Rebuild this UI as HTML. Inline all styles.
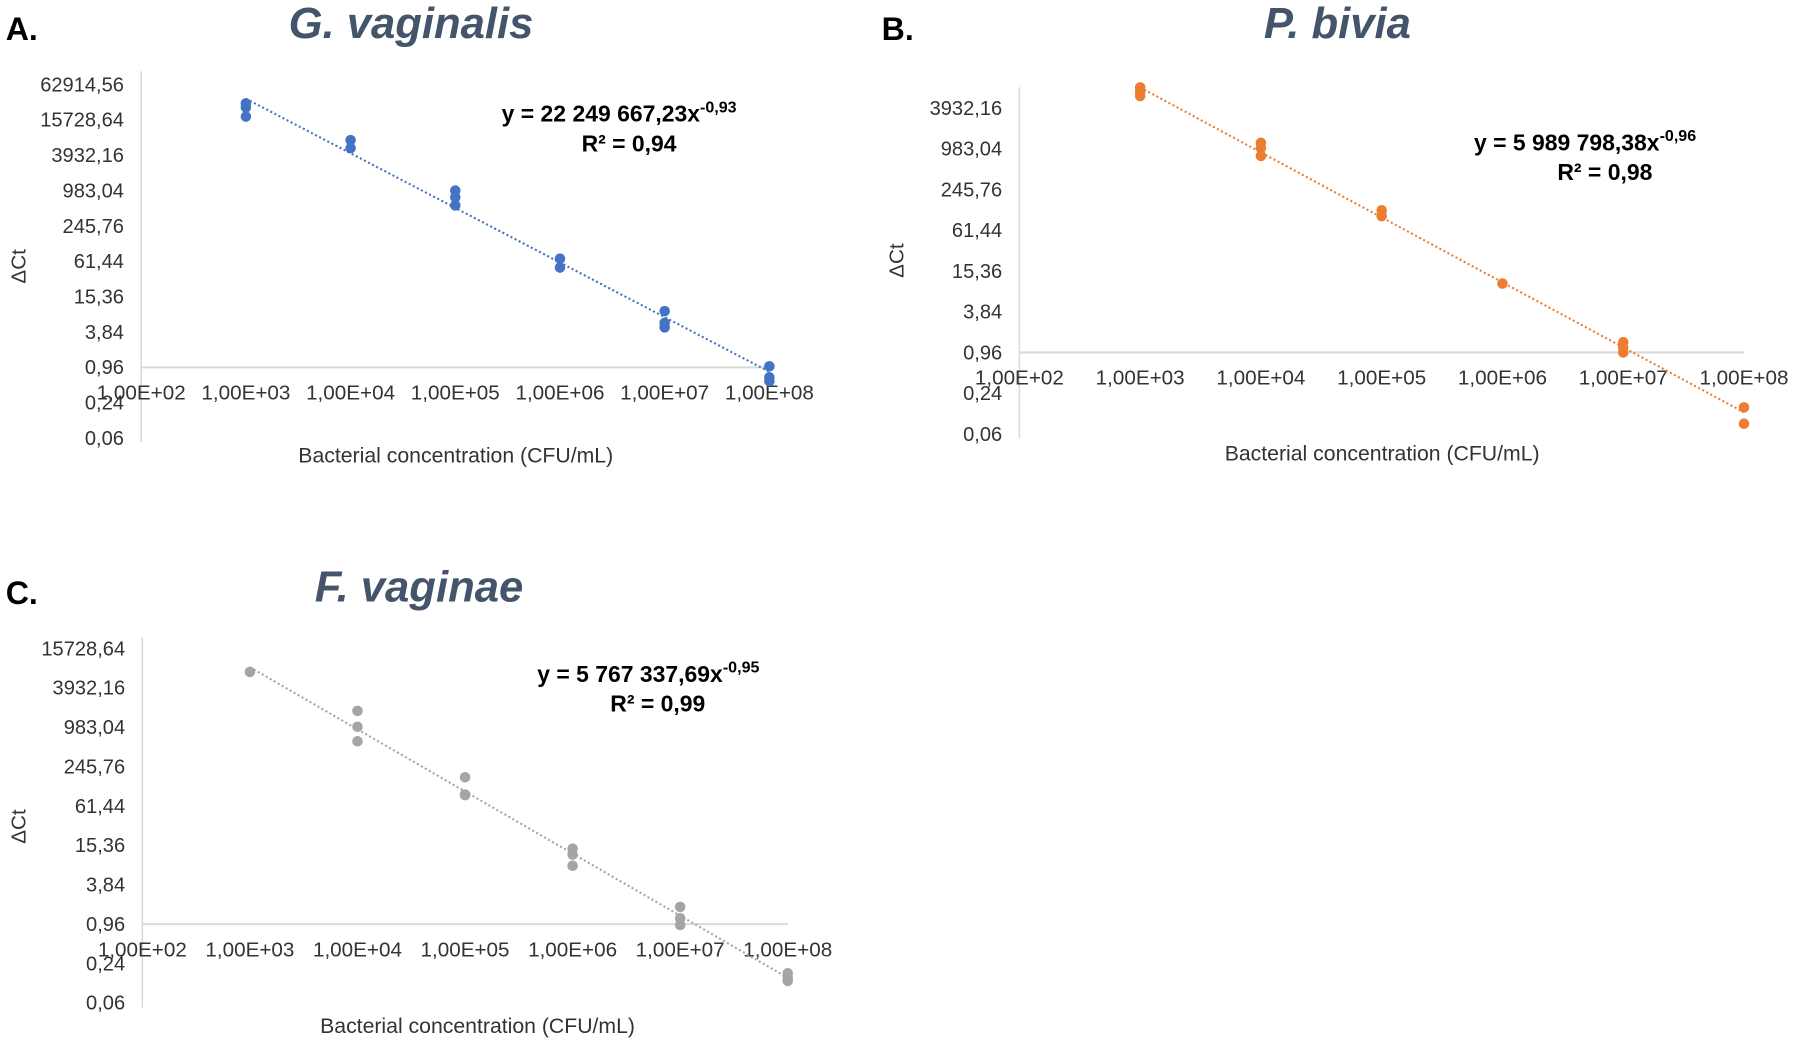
<!DOCTYPE html>
<html><head><meta charset="utf-8"><style>
html,body{margin:0;padding:0;background:#fff;}
svg{display:block;font-family:"Liberation Sans",Arial,sans-serif;}
</style></head><body>
<svg id="fig" width="1800" height="1045" viewBox="0 0 1568 910.3" xmlns="http://www.w3.org/2000/svg"></svg>
<script>
// ---- data ----
const xTickLabels = ["1,00E+02","1,00E+03","1,00E+04","1,00E+05","1,00E+06","1,00E+07","1,00E+08"];
const xTickValues = [1e2,1e3,1e4,1e5,1e6,1e7,1e8];
const yTickLabelsA = ["62914,56","15728,64","3932,16","983,04","245,76","61,44","15,36","3,84","0,96","0,24","0,06"];
const yTickLabelsB = ["3932,16","983,04","245,76","61,44","15,36","3,84","0,96","0,24","0,06"];
const yTickLabelsC = ["15728,64","3932,16","983,04","245,76","61,44","15,36","3,84","0,96","0,24","0,06"];
const aX = [1e3,1e3,1e3,1e4,1e4,1e5,1e5,1e5,1e6,1e6,1e7,1e7,1e7,1e8,1e8,1e8];
const aY = [30000,25700,17900,7100,5200,983,757,550,68,48,8.7,5.5,4.6,1.0,0.65,0.56];
const bX = [1e3,1e3,1e3,1e4,1e4,1e4,1e5,1e5,1e6,1e7,1e7,1e7,1e8,1e8];
const bY = [7900,6800,5900,1200,1000,770,121,99,10,1.36,1.12,0.96,0.148,0.085];
const cX = [1e3,1e4,1e4,1e4,1e5,1e5,1e5,1e6,1e6,1e6,1e7,1e7,1e7,1e8,1e8,1e8];
const cY = [6900,1750,1000,600,169,92,90,13.7,11.1,7.5,1.76,1.18,0.93,0.17,0.145,0.13];
const aFit = [22249667.23,-0.93];
const bFit = [5989798.38,-0.96];
const cFit = [5767337.69,-0.95];

const NS="http://www.w3.org/2000/svg";
const svg=document.getElementById('fig');
function mk(tag,attrs,parent){const e=document.createElementNS(NS,tag);for(const k in attrs)e.setAttribute(k,attrs[k]);(parent||svg).appendChild(e);return e;}

function chart(o){
  const g=mk('g',{});
  
  
  const xs=v=>o.x0+(Math.log10(v)-2)*o.xStep;
  const ys=v=>o.y096-(Math.log(v/0.96)/Math.log(4))*o.yStep;
  const L=mk('text',{x:o.letterX,y:o.titleY,'font-size':28,'font-weight':'bold',fill:'#000'},g);L.textContent=o.letter;
  
  const T=mk('text',{x:o.titleX,y:o.titleY-2,'font-size':38,'font-weight':'bold','font-style':'italic',fill:'#44546a','text-anchor':'middle'},g);T.textContent=o.title;
  
  const va=mk('line',{x1:o.x0,x2:o.x0,y1:o.yTop,y2:o.yBot,stroke:'#d9d9d9','stroke-width':1.3},g);
  
  const ha=mk('line',{x1:o.x0,x2:xs(1e8),y1:o.y096,y2:o.y096,stroke:'#d9d9d9','stroke-width':1.8},g);
  
  o.yLabels.forEach(s=>{
    const v=parseFloat(s.replace(',','.'));
    const t=mk('text',{x:o.x0-15,y:ys(v)+6,'font-size':17.5,fill:'#333','text-anchor':'end'},g);t.textContent=s;
    
  });
  xTickValues.forEach((v,i)=>{
    const t=mk('text',{x:xs(v),y:o.y096+28,'font-size':18,fill:'#333','text-anchor':'middle'},g);t.textContent=xTickLabels[i];
    
  });
  const yt=mk('text',{x:0,y:0,'font-size':18,fill:'#333','text-anchor':'middle',transform:`translate(${o.yTitleX},${o.yTitleY}) rotate(-90)`},g);yt.textContent='ΔCt';
  
  const xt=mk('text',{x:o.xTitleX,y:o.xTitleY,'font-size':18.5,fill:'#333','text-anchor':'middle'},g);xt.textContent='Bacterial concentration (CFU/mL)';
  
  const f=v=>o.fit[0]*Math.pow(v,o.fit[1]);
  const tl=mk('line',{x1:xs(1e3),y1:ys(f(1e3)),x2:xs(1e8),y2:ys(f(1e8)),stroke:o.color,'stroke-width':1.8,'stroke-dasharray':'1.8 2.2'},g);
  
  o.xd.forEach((xv,i)=>{
    const c=mk('circle',{cx:xs(xv),cy:ys(o.yd[i]),r:4.6,fill:o.color},g);
    
  });
  const eq=mk('text',{x:o.eqX,y:o.eqY,'font-size':20,'font-weight':'bold',fill:'#000'},g);
  
  eq.appendChild(document.createTextNode(o.eqText));
  const sp=mk('tspan',{'font-size':14,dy:-8},eq);sp.textContent=o.eqExp;
  const r2=mk('text',{x:o.r2X,y:o.eqY+26,'font-size':20,'font-weight':'bold',fill:'#000','text-anchor':'middle'},g);r2.textContent=o.r2;
  
}

chart({name:'chart-g-vaginalis',letter:'A.',letterX:5,title:'G. vaginalis',titleX:358,titleY:35,
  x0:123,xStep:91.2,y096:320,yStep:30.8,yTop:62,yBot:385,yLabels:yTickLabelsA,
  yTitleX:22,yTitleY:232,xTitleX:397,xTitleY:403,color:'#4472c4',fit:aFit,xd:aX,yd:aY,
  eqX:437,eqY:106,eqText:'y = 22 249 667,23x',eqExp:'-0,93',r2X:548,r2:'R² = 0,94'});
chart({name:'chart-p-bivia',letter:'B.',letterX:768,title:'P. bivia',titleX:1165,titleY:35,
  x0:888,xStep:105.2,y096:307,yStep:35.5,yTop:76,yBot:382,yLabels:yTickLabelsB,
  yTitleX:787,yTitleY:227,xTitleX:1204,xTitleY:401,color:'#ed7d31',fit:bFit,xd:bX,yd:bY,
  eqX:1284,eqY:131,eqText:'y = 5 989 798,38x',eqExp:'-0,96',r2X:1398,r2:'R² = 0,98'});
chart({name:'chart-f-vaginae',letter:'C.',letterX:5,title:'F. vaginae',titleX:365,titleY:526,
  x0:124,xStep:93.7,y096:805,yStep:34.3,yTop:555,yBot:878,yLabels:yTickLabelsC,
  yTitleX:22,yTitleY:720,xTitleX:416,xTitleY:900,color:'#a5a5a5',fit:cFit,xd:cX,yd:cY,
  eqX:468,eqY:594,eqText:'y = 5 767 337,69x',eqExp:'-0,95',r2X:573,r2:'R² = 0,99'});
</script>
</body></html>
